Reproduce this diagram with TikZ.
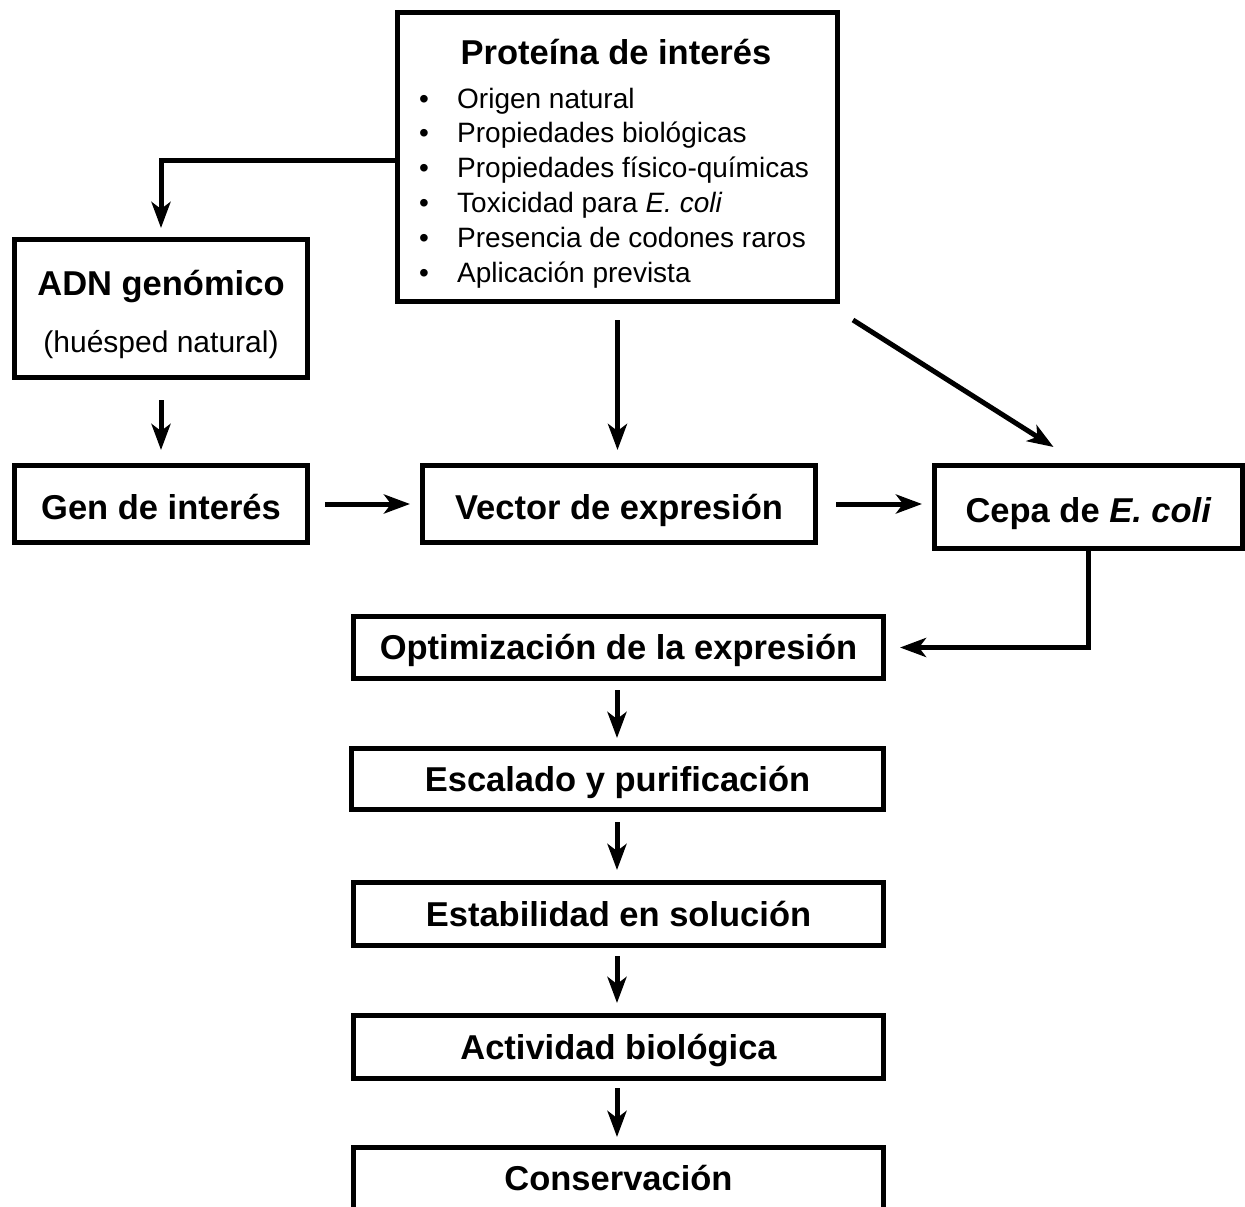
\documentclass[tikz,border=0pt]{standalone}
\usepackage{fontspec}
\setmainfont{Liberation Sans}
\usetikzlibrary{arrows.meta,calc}
\newcommand\bigbf{\fontsize{34.5}{40}\selectfont\bfseries}
\newcommand\midrm{\fontsize{30}{36}\selectfont}
\newcommand\listrm{\fontsize{28}{34}\selectfont}
\begin{document}
\begin{tikzpicture}[x=1pt,y=1pt,
  box/.style={draw, line width=5pt, inner sep=0pt, align=center, font=\bigbf, text depth=0pt, text height=24pt},
  tallbox/.style={box, text height=30pt},
  lbl/.style={inner sep=0pt},
  arr/.style={line width=5pt, -{Stealth[length=26pt,width=19pt,inset=7pt]}}]
\useasboundingbox (0,0) rectangle (1245,-1207);
% boxes
\node[box, minimum width=440pt, minimum height=289pt] (prot) at (617.5,-157) {};
\node[box, minimum width=293pt, minimum height=138pt] (adn) at (161,-308.5) {};
\node[tallbox, minimum width=293pt, minimum height=77pt] (gen) at (161,-504) {Gen de interés};
\node[tallbox, minimum width=393pt, minimum height=77pt] (vec) at (619,-504) {Vector de expresión};
\node[tallbox, minimum width=308pt, minimum height=83pt] (cepa) at (1088.5,-507) {Cepa de \textit{E. coli}};
\node[box, minimum width=530pt, minimum height=62pt] (opt) at (618.5,-647.5) {Optimización de la expresión};
\node[box, minimum width=532pt, minimum height=61pt] (esc) at (617.5,-779) {Escalado y purificación};
\node[box, minimum width=530pt, minimum height=63pt] (est) at (618.5,-914) {Estabilidad en solución};
\node[box, minimum width=530pt, minimum height=63pt] (act) at (618.5,-1047) {Actividad biológica};
\node[box, minimum width=530pt, minimum height=62pt] (cons) at (618.5,-1178.5) {Conservación};
% texts in the top boxes
\node[lbl, font=\bigbf, anchor=base] (ptitle) at (616,-65) {Proteína de interés};
\node[lbl, font=\bigbf, anchor=base] (adnt) at (161,-295) {ADN genómico};
\node[lbl, font=\midrm, anchor=base] (adns) at (161,-352) {(huésped natural)};
\foreach \t [count=\i from 0] in {Origen natural, Propiedades biológicas, Propiedades físico-químicas, {Toxicidad para \textit{E. coli}}, Presencia de codones raros, Aplicación prevista}{
  \node[lbl, font=\listrm, anchor=base west] (item\i) at (457,-108-34.8*\i) {\t};
  \node[lbl, font=\listrm, anchor=base] (bul\i) at (424,-108-34.8*\i) {\textbullet};
}
% connectors
\draw[arr, shorten >=9pt] ([yshift=-3pt]prot.west) -| (adn.north);
\draw[arr, shorten <=20pt, shorten >=13pt] (adn.south) -- (gen.north);
\draw[arr, shorten <=16pt, shorten >=13pt] (prot.south) -- (prot.south |- vec.north);
\draw[arr] ([xshift=13pt,yshift=-16pt]prot.south east) -- ([xshift=-35pt,yshift=16pt]cepa.north);
\draw[arr, shorten <=15pt, shorten >=10pt] (gen.east) -- (vec.west);
\draw[arr, shorten <=18pt, shorten >=10pt] (vec.east) -- (vec.east -| cepa.west);
\draw[arr, shorten >=14pt] (cepa.south) |- (opt.east);
\draw[arr, shorten <=9pt, shorten >=8pt] (opt.south -| 617,0) -- (esc.north -| 617,0);
\draw[arr, shorten <=10pt, shorten >=10pt] (esc.south -| 617,0) -- (est.north -| 617,0);
\draw[arr, shorten <=8pt, shorten >=10pt] (est.south -| 617,0) -- (act.north -| 617,0);
\draw[arr, shorten <=7pt, shorten >=8pt] (act.south -| 617,0) -- (cons.north -| 617,0);
\end{tikzpicture}
\end{document}
